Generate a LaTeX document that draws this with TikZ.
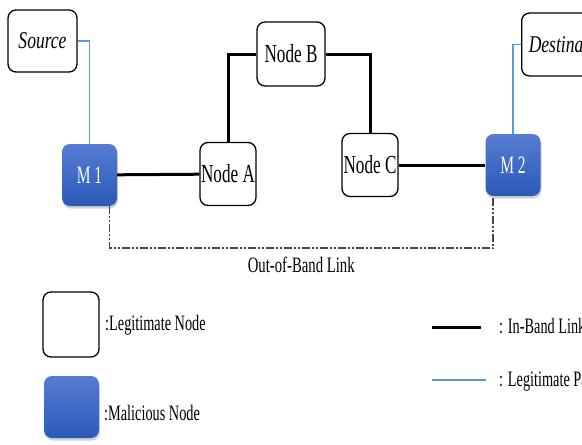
\documentclass[tikz,border=0pt]{standalone}
\usepackage{fontspec}
\setmainfont{Liberation Serif}
\usepackage{graphicx}
\usetikzlibrary{shadows,positioning}
\definecolor{malblue}{RGB}{86,124,210}
\definecolor{maldark}{RGB}{42,90,184}
\definecolor{pathblue}{RGB}{91,155,213}
\definecolor{oobgray}{RGB}{70,70,70}
\newcommand{\nrw}[2][0.66]{\scalebox{#1}[1]{#2}}
\tikzset{
  legit/.style={draw, rounded corners=8pt, line width=1.3pt, fill=white,
    inner sep=0pt, minimum width=56pt, minimum height=63pt,
    font=\fontsize{26}{30}\selectfont},
  malic/.style={rounded corners=8pt, top color=malblue, bottom color=maldark,
    drop shadow={shadow xshift=1pt, shadow yshift=-2.5pt, opacity=0.35},
    inner sep=0pt, minimum width=55pt, minimum height=62pt, text=white,
    font=\fontsize{25}{30}\selectfont},
  inband/.style={line width=3pt},
  legpath/.style={pathblue, line width=1.2pt},
  oob/.style={oobgray, line width=1.5pt,
    dash pattern=on 8pt off 2pt on 2pt off 2pt on 2pt off 2pt},
  lbl/.style={inner sep=0pt, anchor=base west, font=\fontsize{22}{26}\selectfont},
}

\begin{document}
\begin{tikzpicture}[x=1pt, y=-1pt]
  \useasboundingbox (0,0) rectangle (582,445);
  \clip (0,0) rectangle (582,445);
  \fill[white] (0,0) rectangle (582,445);

  % network
  \node[legit, minimum width=69pt, minimum height=62pt] (src) at (42.5,41)
    {\nrw[0.73]{\fontsize{24}{28}\selectfont\itshape Source}\hspace{4pt}};
  \node[malic] (m1) at (89.5,175) {\nrw[0.62]{M 1}};
  \node[legit] (na) at (228,174) {\nrw{Node A}};
  \node[legit, minimum width=68pt, minimum height=64pt] (nb) at (291,54) {\nrw{Node B}};
  \node[legit] (nc) at (370,165) {\nrw{Node C}};
  \node[malic] (m2) at (513,165) {\nrw[0.62]{M 2}};
  \node[legit, minimum width=96pt, anchor=west] (dst) at (521,44.5)
    {\nrw[0.73]{\fontsize{24}{28}\selectfont\itshape Destination}};

  \draw[legpath] (src.east) -| (m1.north);
  \draw[legpath] (m2.north) |- (dst.west);
  \draw[inband] (m1) -- (na);
  \draw[inband] (na.north) |- (nb.west);
  \draw[inband] (nb.east) -| (nc.north);
  \draw[inband] (nc) -- (m2);
  \draw[oob] ([xshift=20pt]m1.south) -- ++(0,42)
    -| node[pos=0.25, anchor=base, yshift=-24pt, text=black,
            font=\fontsize{22}{26}\selectfont]
       (oobl) {\nrw[0.67]{Out-of-Band Link}} ([xshift=-20pt]m2.south);

  % legend
  \node[legit, minimum height=65pt] (lgl) at (71,324.5) {};
  \node[malic] (lgm) at (71.5,407) {};
  \node[lbl] (lgltxt) at (105,330) {\nrw[0.65]{:Legitimate Node}};
  \node[lbl] (lgmtxt) at (104,420) {\nrw[0.65]{:Malicious Node}};
  \coordinate (ib1) at (432,327);
  \coordinate (ib2) at (481,327);
  \draw[inband] (ib1) -- (ib2);
  \node[lbl] (ibtxt) at (499,333) {\nrw[0.65]{: In-Band Link}};
  \coordinate (lp1) at (432,380);
  \coordinate (lp2) at (486,380);
  \draw[legpath] (lp1) -- (lp2);
  \node[lbl] (lptxt) at (499,386) {\nrw[0.65]{: Legitimate Path}};
\end{tikzpicture}
\end{document}
